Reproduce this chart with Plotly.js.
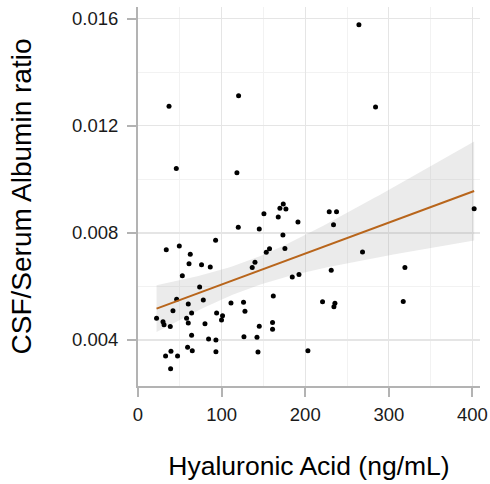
<!DOCTYPE html>
<html>
<head>
<meta charset="utf-8">
<script src="https://cdn.plot.ly/plotly-3.0.1.min.js"></script>
<style>html,body{margin:0;padding:0;background:#fff;}#chart{width:490px;height:484px;}</style>
</head>
<body>
<div id="chart"></div>
<script>
// Hyaluronic acid (ng/mL)
const hyaluronicAcid = [264.2, 37.1, 120.3, 284.1, 45.8, 118.3, 173.7, 169.7, 176.9, 150.6,
  167.7, 191.3, 228.7, 237.4, 233.8, 402.0, 119.9, 145.0, 173.3, 92.8,
  33.8, 49.4, 62.5, 157.3, 153.4, 175.7, 268.5, 61.0, 76.0, 86.4,
  139.9, 136.6, 231.1, 319.2, 53.0, 184.5, 192.5, 73.7, 46.2, 161.8,
  78.1, 60.1, 111.2, 126.2, 220.7, 235.5, 234.3, 317.2, 41.8, 127.9,
  64.1, 94.0, 101.1, 99.9, 22.2, 29.9, 31.1, 38.6, 58.1, 60.1,
  80.1, 160.9, 160.9, 145.0, 64.1, 84.4, 93.2, 126.7, 142.3, 33.0,
  39.4, 47.3, 59.3, 64.9, 93.2, 143.5, 203.2, 39.0];
// CSF/Serum albumin ratio
const albuminRatio = [0.01578, 0.01273, 0.01312, 0.01270, 0.01041, 0.01025, 0.00908, 0.00892, 0.00889, 0.00872,
  0.00859, 0.00841, 0.00879, 0.00879, 0.00830, 0.00890, 0.00821, 0.00815, 0.00792, 0.00773,
  0.00737, 0.00751, 0.00720, 0.00741, 0.00728, 0.00742, 0.00729, 0.00685, 0.00681, 0.00673,
  0.00690, 0.00671, 0.00660, 0.00671, 0.00640, 0.00635, 0.00645, 0.00598, 0.00552, 0.00564,
  0.00549, 0.00534, 0.00538, 0.00541, 0.00543, 0.00537, 0.00524, 0.00544, 0.00509, 0.00507,
  0.00501, 0.00501, 0.00490, 0.00475, 0.00481, 0.00468, 0.00457, 0.00450, 0.00481, 0.00463,
  0.00461, 0.00465, 0.00440, 0.00451, 0.00418, 0.00404, 0.00400, 0.00412, 0.00410, 0.00340,
  0.00358, 0.00340, 0.00373, 0.00360, 0.00356, 0.00355, 0.00360, 0.00292];
const xTickVals = [0, 100, 200, 300, 400];
const yTickVals = [0.004, 0.008, 0.012, 0.016];
const yTickText = ["0.004", "0.008", "0.012", "0.016"];

// Linear fit with 95% confidence band
const n = hyaluronicAcid.length;
const mx = hyaluronicAcid.reduce((a, b) => a + b, 0) / n;
const my = albuminRatio.reduce((a, b) => a + b, 0) / n;
let sxx = 0, sxy = 0;
for (let i = 0; i < n; i++) { sxx += (hyaluronicAcid[i] - mx) ** 2; sxy += (hyaluronicAcid[i] - mx) * (albuminRatio[i] - my); }
const slope = sxy / sxx, intercept = my - slope * mx;
let sse = 0;
for (let i = 0; i < n; i++) { sse += (albuminRatio[i] - intercept - slope * hyaluronicAcid[i]) ** 2; }
const s = Math.sqrt(sse / (n - 2));
const tval = 1.992;
const xmin = Math.min(...hyaluronicAcid), xmax = Math.max(...hyaluronicAcid);
const fx = [], fy = [], lo = [], hi = [];
for (let k = 0; k <= 80; k++) {
  const x = xmin + (xmax - xmin) * k / 80;
  const y = intercept + slope * x;
  const se = s * Math.sqrt(1 / n + (x - mx) ** 2 / sxx);
  fx.push(x); fy.push(y); lo.push(y - tval * se); hi.push(y + tval * se);
}

const traces = [
  {x: fx, y: lo, mode: 'lines', line: {width: 0}, hoverinfo: 'skip', showlegend: false},
  {x: fx, y: hi, mode: 'lines', line: {width: 0}, fill: 'tonexty', fillcolor: 'rgba(153,153,153,0.2)', hoverinfo: 'skip', showlegend: false},
  {x: hyaluronicAcid, y: albuminRatio, mode: 'markers', type: 'scatter', marker: {color: '#000', size: 5}, showlegend: false},
  {x: fx, y: fy, mode: 'lines', line: {color: '#b8651b', width: 2}, showlegend: false}
];

const layout = {
  width: 490, height: 484,
  margin: {l: 138, r: 10, t: 7, b: 98},
  paper_bgcolor: '#fff', plot_bgcolor: '#fff',
  font: {family: 'Liberation Sans, Arial, sans-serif', color: '#000'},
  showlegend: false,
  xaxis: {
    range: [0, 409], tickvals: xTickVals, ticktext: xTickVals.map(String),
    showline: true, linecolor: '#b3b3b3', linewidth: 2,
    ticks: 'outside', ticklen: 9, tickwidth: 2, tickcolor: '#b3b3b3',
    showgrid: true, gridcolor: '#e5e5e5', gridwidth: 1.2, zeroline: false,
    minor: {dtick: 50, tick0: 0, showgrid: true, gridcolor: '#f2f2f2', gridwidth: 1, ticks: ''},
    tickfont: {size: 18.5, color: '#1a1a1a'}, ticklabelstandoff: 2,
    title: {text: 'Hyaluronic Acid (ng/mL)', font: {size: 26.5, color: '#000'}, standoff: 32}
  },
  yaxis: {
    range: [0.00228, 0.01644], tickvals: yTickVals, ticktext: yTickText,
    showline: true, linecolor: '#b3b3b3', linewidth: 2,
    ticks: 'outside', ticklen: 9, tickwidth: 2, tickcolor: '#b3b3b3',
    showgrid: true, gridcolor: '#e5e5e5', gridwidth: 1.2, zeroline: false,
    minor: {dtick: 0.002, tick0: 0, showgrid: true, gridcolor: '#f2f2f2', gridwidth: 1, ticks: ''},
    tickfont: {size: 18.5, color: '#1a1a1a'}, ticklabelstandoff: 5,
    title: {text: 'CSF/Serum Albumin ratio', font: {size: 28, color: '#000'}, standoff: 32}
  }
};
Plotly.newPlot('chart', traces, layout, {displayModeBar: false, staticPlot: true});
</script>
</body>
</html>
